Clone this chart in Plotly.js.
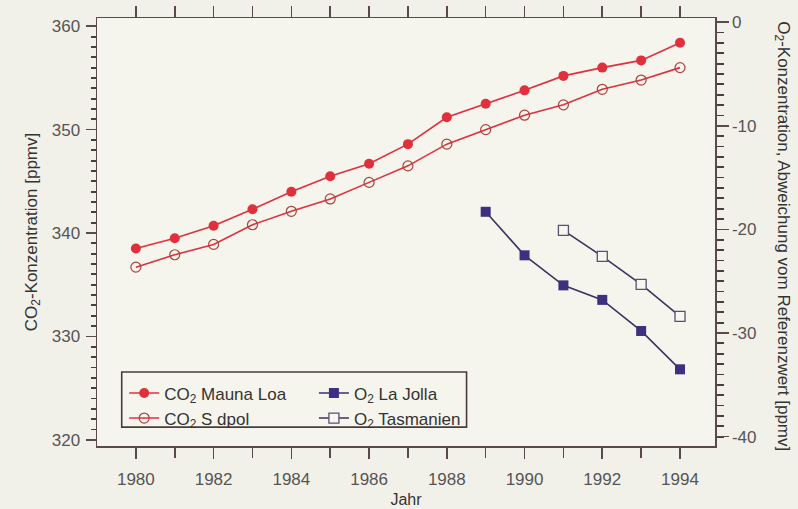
<!DOCTYPE html>
<html>
<head>
<meta charset="utf-8">
<script src="https://cdn.plot.ly/plotly-3.0.1.min.js"></script>
<style>html,body{margin:0;padding:0;background:#f2f1e9;}#chart{width:798px;height:509px;}</style>
</head>
<body>
<div id="chart"></div>
<script>
const yearsCO2 = [1980,1981,1982,1983,1984,1985,1986,1987,1988,1989,1990,1991,1992,1993,1994];
const co2MaunaLoa = [338.5,339.5,340.7,342.3,344.0,345.5,346.7,348.6,351.2,352.5,353.8,355.2,356.0,356.7,358.4];
const co2Sdpol = [336.7,337.9,338.9,340.8,342.1,343.3,344.9,346.5,348.6,350.0,351.4,352.4,353.9,354.8,356.0];
const yearsLaJolla = [1989,1990,1991,1992,1993,1994];
const o2LaJolla = [-18.3,-22.5,-25.4,-26.8,-29.8,-33.5];
const yearsTasmanien = [1991,1992,1993,1994];
const o2Tasmanien = [-20.1,-22.6,-25.3,-28.4];
const xLabelYears = [1980,1982,1984,1986,1988,1990,1992,1994];
const xMinorYears = [1981,1983,1985,1987,1989,1991,1993];
const rightMajorVals = [0,-10,-20,-30,-40];
const rightMajorText = ['0','-10','-20','-30','-40'];

const red = '#e0303c';
const redOpen = '#a8443a';
const navy = '#3f2f7e';
const navyLine = '#3a3560';
const axisCol = '#5a4b4a';
const font = 'Liberation Sans, Arial, sans-serif';
const xRange = [1979.0, 1994.9];
const yRange = [319.4, 360.8];
const y2Range = [-40.9, 0.4];

const traces = [
  {x: yearsCO2, y: co2MaunaLoa, name: 'CO<sub>2</sub> Mauna Loa', mode: 'lines+markers', type: 'scatter',
   line: {color: red, width: 1.6}, marker: {symbol: 'circle', size: 10, color: red}, legend: 'legend'},
  {x: yearsCO2, y: co2Sdpol, name: 'CO<sub>2</sub> S dpol', mode: 'lines+markers', type: 'scatter',
   line: {color: red, width: 1.6}, marker: {symbol: 'circle-open', size: 10, color: redOpen, line: {width: 1.2}}, legend: 'legend'},
  {x: yearsLaJolla, y: o2LaJolla, name: 'O<sub>2</sub> La Jolla', mode: 'lines+markers', type: 'scatter', yaxis: 'y2',
   line: {color: navyLine, width: 1.6}, marker: {symbol: 'square', size: 10, color: navy}, legend: 'legend2'},
  {x: yearsTasmanien, y: o2Tasmanien, name: 'O<sub>2</sub> Tasmanien', mode: 'lines+markers', type: 'scatter', yaxis: 'y2',
   line: {color: navyLine, width: 1.6}, marker: {symbol: 'square', size: 10, color: '#f7f6f0', line: {color: '#5a5070', width: 1.3}}, legend: 'legend2'},
  {x: [null], y: [null], xaxis: 'x2', yaxis: 'y', mode: 'markers', showlegend: false, hoverinfo: 'skip'}
];

const layout = {
  width: 798, height: 509,
  paper_bgcolor: '#f2f1e9', plot_bgcolor: '#f5f4ed',
  margin: {l: 97, r: 83, t: 18, b: 63},
  font: {family: font, size: 15, color: '#555'},
  showlegend: true,
  xaxis: {
    range: xRange, tickvals: xLabelYears,
    ticks: 'outside', ticklen: 11, tickwidth: 1.6, tickcolor: axisCol,
    showline: true, linecolor: axisCol, linewidth: 1.5, mirror: 'ticks',
    showgrid: false, zeroline: false, ticklabelstandoff: 6,
    tickfont: {size: 17, color: '#555'},
    title: {text: 'Jahr', font: {size: 16, color: '#333'}, standoff: 6}
  },
  xaxis2: {
    overlaying: 'x', anchor: 'y', side: 'bottom', range: xRange, tickvals: xMinorYears,
    showticklabels: false, ticks: 'outside', ticklen: 11, tickwidth: 1.6, tickcolor: axisCol,
    showline: false, mirror: 'ticks', showgrid: false, zeroline: false
  },
  yaxis: {
    range: yRange, dtick: 10, tick0: 320,
    ticks: 'outside', ticklen: 10, tickwidth: 1.6, tickcolor: axisCol,
    minor: {dtick: 1, tick0: 320, ticks: 'outside', ticklen: 5, tickcolor: '#4a3c3c', tickwidth: 1.8},
    showline: true, linecolor: axisCol, linewidth: 1.5,
    showgrid: false, zeroline: false, ticklabelstandoff: 2,
    tickfont: {size: 17, color: '#555'},
    title: {text: 'CO<sub>2</sub>-Konzentration [ppmv]', font: {size: 17, color: '#333'}, standoff: 10}
  },
  yaxis2: {
    overlaying: 'y', side: 'right', anchor: 'x',
    range: y2Range, tickvals: rightMajorVals, ticktext: rightMajorText,
    ticks: 'outside', ticklen: 12, tickwidth: 1.6, tickcolor: axisCol,
    minor: {dtick: 1, tick0: 0, ticks: 'outside', ticklen: 7, tickcolor: '#4a3c3c', tickwidth: 1.8},
    showline: true, linecolor: axisCol, linewidth: 1.5,
    showgrid: false, zeroline: false,
    tickfont: {size: 17, color: '#555'}
  },
  legend: {
    x: 0.044, y: 0.165, xanchor: 'left', yanchor: 'top', bgcolor: 'rgba(0,0,0,0)',
    borderwidth: 0, font: {size: 17, color: '#333'}, tracegroupgap: 0
  },
  legend2: {
    x: 0.351, y: 0.165, xanchor: 'left', yanchor: 'top', bgcolor: 'rgba(0,0,0,0)',
    borderwidth: 0, font: {size: 17, color: '#333'}, tracegroupgap: 0
  },
  shapes: [
    {type: 'rect', xref: 'paper', yref: 'paper', x0: 0.040, x1: 0.598, y0: 0.044, y1: 0.173,
     line: {color: '#4a3c3c', width: 1.6}, fillcolor: 'rgba(0,0,0,0)'}
  ],
  annotations: [
    {text: 'O<sub>2</sub>-Konzentration, Abweichung vom Referenzwert [ppmv]', xref: 'paper', yref: 'paper',
     x: 1.0 + 67/618, y: 0.49, xanchor: 'center', yanchor: 'middle', textangle: 90, showarrow: false,
     font: {size: 17, color: '#333'}}
  ]
};

Plotly.newPlot('chart', traces, layout, {displayModeBar: false, staticPlot: true});
</script>
</body>
</html>
